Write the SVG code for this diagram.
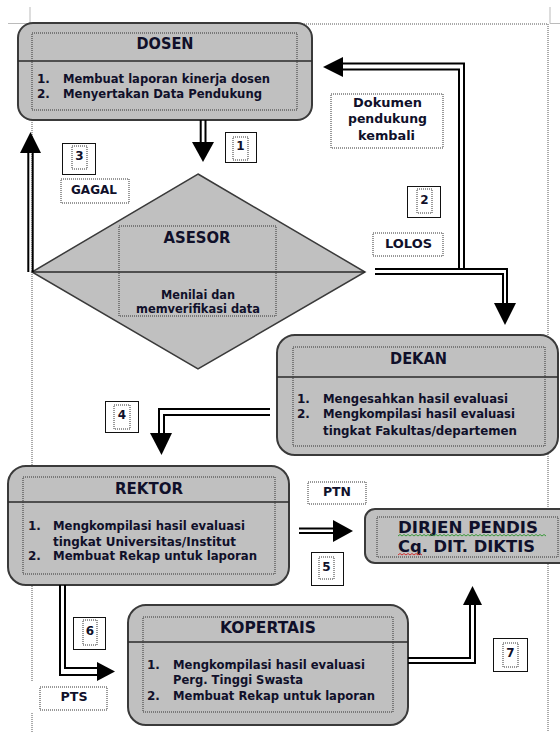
<svg xmlns="http://www.w3.org/2000/svg" width="560" height="732" viewBox="0 0 560 732">
<style>
.box{fill:#c0c0c0;stroke:#3a3a3a;stroke-width:2}
.div{stroke:#2a2a2a;stroke-width:1.5;fill:none}
.dot{fill:none;stroke:#333;stroke-width:1;stroke-dasharray:1 1}
.lbl{fill:#fff;stroke:#333;stroke-width:1;stroke-dasharray:1 1}
.num{fill:#fff;stroke:#111;stroke-width:1}
.ln{fill:none;stroke:#000;stroke-width:2}
.hd{fill:#000}
.margin{fill:none;stroke:#555;stroke-width:1;stroke-dasharray:1 1}
.crop{fill:none;stroke:#bbb;stroke-width:1}
text{font-family:"DejaVu Sans","Liberation Sans",sans-serif;font-weight:bold;fill:#10102a}
.t{font-size:15px}
.i{font-size:12px}
.s{font-size:11.5px}
.n{font-size:12px}
.c{text-anchor:middle}
</style>
<g id="page">
<path class="crop" d="M30 7V23.5H8M550 7V23.5H560"/>
<path class="margin" d="M32 24H548M548 24V732M32 24V682M32 713V732"/>
</g>
<g id="dosen">
<rect class="box" x="18" y="23" width="294" height="97" rx="15"/>
<line class="div" x1="18" y1="61" x2="312" y2="61"/>
<rect class="dot" x="32" y="33" width="265" height="77"/>
<text class="t c" x="165" y="49" textLength="57" lengthAdjust="spacingAndGlyphs">DOSEN</text>
<text class="i" x="37" y="83">1.</text>
<text class="i" x="63" y="83" textLength="207" lengthAdjust="spacingAndGlyphs">Membuat laporan kinerja dosen</text>
<text class="i" x="37" y="98">2.</text>
<text class="i" x="63" y="98" textLength="199" lengthAdjust="spacingAndGlyphs">Menyertakan Data Pendukung</text>
</g>
<g id="asesor">
<polygon class="box" points="198,174 365,272 198,369 32,272" style="stroke-width:1.5"/>
<line class="div" x1="32" y1="272" x2="365" y2="272"/>
<rect class="dot" x="119" y="226" width="157" height="90"/>
<text class="c" x="197" y="243" style="font-size:16px" textLength="67" lengthAdjust="spacingAndGlyphs">ASESOR</text>
<text class="s c" x="198" y="299" textLength="74" lengthAdjust="spacingAndGlyphs">Menilai dan</text>
<text class="s c" x="198" y="313" textLength="124" lengthAdjust="spacingAndGlyphs">memverifikasi data</text>
</g>
<g id="dekan">
<rect class="box" x="277" y="335" width="281" height="120" rx="18"/>
<line class="div" x1="277" y1="377" x2="558" y2="377"/>
<rect class="dot" x="293" y="347" width="252" height="99"/>
<text class="t c" x="418.5" y="364" textLength="57" lengthAdjust="spacingAndGlyphs">DEKAN</text>
<text class="i" x="297" y="403">1.</text>
<text class="i" x="323" y="403" textLength="185" lengthAdjust="spacingAndGlyphs">Mengesahkan hasil evaluasi</text>
<text class="i" x="297" y="418">2.</text>
<text class="i" x="323" y="418" textLength="192" lengthAdjust="spacingAndGlyphs">Mengkompilasi hasil evaluasi</text>
<text class="i" x="323" y="435" textLength="194" lengthAdjust="spacingAndGlyphs">tingkat Fakultas/departemen</text>
</g>
<g id="rektor">
<rect class="box" x="8" y="466" width="281" height="119" rx="18"/>
<line class="div" x1="8" y1="502" x2="289" y2="502"/>
<rect class="dot" x="23" y="477" width="252" height="97"/>
<text class="t c" x="149" y="494" textLength="68" lengthAdjust="spacingAndGlyphs">REKTOR</text>
<text class="i" x="28" y="530">1.</text>
<text class="i" x="53" y="530" textLength="192" lengthAdjust="spacingAndGlyphs">Mengkompilasi hasil evaluasi</text>
<text class="i" x="53" y="546" textLength="183" lengthAdjust="spacingAndGlyphs">tingkat Universitas/Institut</text>
<text class="i" x="28" y="560">2.</text>
<text class="i" x="53" y="560" textLength="204" lengthAdjust="spacingAndGlyphs">Membuat Rekap untuk laporan</text>
</g>
<g id="dirjen">
<rect class="box" x="365" y="509" width="210" height="54" rx="10"/>
<rect class="dot" x="377" y="517" width="181" height="40"/>
<text class="t" x="398" y="533" textLength="140" lengthAdjust="spacingAndGlyphs">DIRJEN PENDIS</text>
<text class="t" x="398" y="552" textLength="137" lengthAdjust="spacingAndGlyphs">Cq. DIT. DIKTIS</text>
<path fill="none" stroke="#3a9a3a" stroke-width="1" d="M398 536l2-1.5l2 1.5l2-1.5l2 1.5l2-1.5l2 1.5l2-1.5l2 1.5l2-1.5l2 1.5l2-1.5l2 1.5l2-1.5l2 1.5l2-1.5l2 1.5l2-1.5l2 1.5l2-1.5l2 1.5l2-1.5l2 1.5l2-1.5l2 1.5l2-1.5l2 1.5l2-1.5l2 1.5l2-1.5l2 1.5l2-1.5l2 1.5l2-1.5l2 1.5l2-1.5l2 1.5l2-1.5l2 1.5l2-1.5l2 1.5l2-1.5l2 1.5l2-1.5l2 1.5l2-1.5l2 1.5l2-1.5l2 1.5l2-1.5l2 1.5l2-1.5l2 1.5l2-1.5l2 1.5l2-1.5l2 1.5l2-1.5l2 1.5l2-1.5l2 1.5l2-1.5l2 1.5l2-1.5l2 1.5l2-1.5l2 1.5l2-1.5l2 1.5l2-1.5l2 1.5l2-1.5l2 1.5l2-1.5l2 1.5"/>
<path fill="none" stroke="#d03030" stroke-width="1" d="M398 555l2-1.5l2 1.5l2-1.5l2 1.5l2-1.5l2 1.5l2-1.5l2 1.5l2-1.5l2 1.5l2-1.5l2 1.5"/>
</g>
<g id="kopertais">
<rect class="box" x="128" y="605" width="280" height="120" rx="18"/>
<line class="div" x1="128" y1="642" x2="408" y2="642"/>
<rect class="dot" x="143" y="617" width="250" height="95"/>
<text class="t c" x="268" y="633" textLength="96" lengthAdjust="spacingAndGlyphs">KOPERTAIS</text>
<text class="i" x="147" y="669">1.</text>
<text class="i" x="173" y="669" textLength="192" lengthAdjust="spacingAndGlyphs">Mengkompilasi hasil evaluasi</text>
<text class="i" x="173" y="684" textLength="130" lengthAdjust="spacingAndGlyphs">Perg. Tinggi Swasta</text>
<text class="i" x="147" y="700">2.</text>
<text class="i" x="173" y="700" textLength="202" lengthAdjust="spacingAndGlyphs">Membuat Rekap untuk laporan</text>
</g>
<g id="connectors">
<path class="ln" d="M200.7 120V143M205.5 120V143"/>
<polygon class="hd" points="192,142 214,142 203,162"/>
<path class="ln" d="M28.3 152V272M32.7 152V272"/>
<polygon class="hd" points="20,153 41,153 30.5,132"/>
<path class="ln" d="M342 63.5H464V270M342 69.5H459V270"/>
<polygon class="hd" points="343,57 343,77 323,67"/>
<path class="ln" d="M375 269H507V304M375 274H503V304"/>
<polygon class="hd" points="494,303 516,303 505,325"/>
<path class="ln" d="M270 409H159V434M270 415H164V434"/>
<polygon class="hd" points="150,433 172,433 161.5,455"/>
<path class="ln" d="M299 528.5H334M299 533H334"/>
<polygon class="hd" points="333,520 333,542 353,531"/>
<path class="ln" d="M60 585V675H98M65 585V668H98"/>
<polygon class="hd" points="97,662 97,681 115,671.5"/>
<path class="ln" d="M408 663H475V604M408 658H470V604"/>
<polygon class="hd" points="463,605 482,605 472.5,586"/>
</g>
<g id="labels">
<rect class="lbl" x="331" y="94" width="112" height="54"/>
<text class="i c" x="387.5" y="107" textLength="69" lengthAdjust="spacingAndGlyphs">Dokumen</text>
<text class="i c" x="387.5" y="123" textLength="79" lengthAdjust="spacingAndGlyphs">pendukung</text>
<text class="i c" x="386.5" y="140" textLength="57" lengthAdjust="spacingAndGlyphs">kembali</text>
<rect class="lbl" x="373" y="233" width="70" height="23"/>
<text class="i c" x="408.5" y="248" textLength="47" lengthAdjust="spacingAndGlyphs">LOLOS</text>
<rect class="lbl" x="61" y="179" width="68" height="24"/>
<text class="i c" x="94" y="194" textLength="46" lengthAdjust="spacingAndGlyphs">GAGAL</text>
<rect class="lbl" x="308" y="482" width="58" height="22"/>
<text class="s c" x="337" y="496" textLength="28" lengthAdjust="spacingAndGlyphs">PTN</text>
<rect class="lbl" x="40" y="687" width="67" height="23"/>
<text class="s c" x="74" y="701" textLength="27" lengthAdjust="spacingAndGlyphs">PTS</text>
</g>
<g id="numbers">
<rect class="num" x="225.5" y="132.5" width="31" height="30"/><rect class="dot" x="233" y="137" width="15" height="23"/><text class="n c" x="240.5" y="150">1</text>
<rect class="num" x="407.5" y="186.5" width="33" height="31"/><rect class="dot" x="417" y="189" width="15" height="24"/><text class="n c" x="424.5" y="204">2</text>
<rect class="num" x="62.5" y="143.5" width="33" height="31"/><rect class="dot" x="72" y="146" width="15" height="23"/><text class="n c" x="79.5" y="160">3</text>
<rect class="num" x="105.5" y="401.5" width="33" height="31"/><rect class="dot" x="114" y="405" width="16" height="24"/><text class="n c" x="122" y="419">4</text>
<rect class="num" x="311.5" y="552.5" width="32" height="33"/><rect class="dot" x="319" y="557" width="15" height="22"/><text class="n c" x="326.5" y="571">5</text>
<rect class="num" x="73.5" y="617.5" width="32" height="32"/><rect class="dot" x="83" y="620" width="14" height="25"/><text class="n c" x="90" y="635">6</text>
<rect class="num" x="493.5" y="638.5" width="34" height="33"/><rect class="dot" x="503" y="643" width="15" height="24"/><text class="n c" x="510.5" y="657">7</text>
</g>
</svg>
